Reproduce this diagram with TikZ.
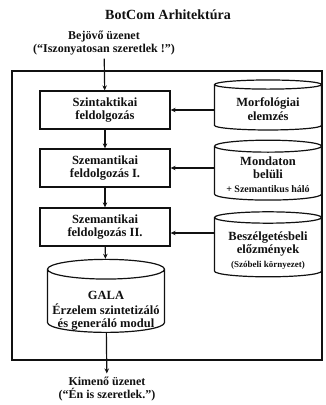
\documentclass[tikz,border=0pt]{standalone}
\usepackage{fontspec}
\setmainfont{Liberation Serif}
\usepackage{tikz}
\usetikzlibrary{positioning,arrows.meta,shapes.geometric,calc}
\definecolor{botink}{HTML}{111111}
\newcommand{\lowtext}[2]{\raisebox{-#1}[\height][\depth]{\begin{tabular}{@{}c@{}}#2\end{tabular}}}

\begin{document}
\begin{tikzpicture}[
  x=1pt,y=-1pt,
  font=\fontsize{12}{13}\selectfont\bfseries,
  every node/.style={text=botink},
  proc/.style={rectangle,draw=botink,line width=1.3pt,minimum width=130pt,minimum height=38pt,align=center,inner sep=1pt,font=\fontsize{12.5}{13.5}\selectfont\bfseries},
  store/.style={cylinder,shape border rotate=90,draw=botink,line width=1.2pt,aspect=0.14,align=center,inner sep=1pt,font=\fontsize{12.5}{13.5}\selectfont\bfseries},
  flow/.style={-{Stealth[length=5pt,width=4.5pt]},line width=1.2pt,draw=botink},
]
\useasboundingbox (0,0) rectangle (326,405);

\node[font=\fontsize{14}{16}\selectfont\bfseries] (title) at (168,15) {BotCom Arhitektúra};
\node[align=center] (input) at (104,43) {Bejövő üzenet\\(``Iszonyatosan szeretlek !'')};

\draw[line width=1.6pt,draw=botink] (12,71) rectangle (322,360);

\node[proc] (szint) at (105,110) {Szintaktikai\\feldolgozás};
\node[proc] (szem1) at (105,168) {Szemantikai\\feldolgozás I.};
\node[proc] (szem2) at (105,227) {Szemantikai\\feldolgozás II.};
\node[store,minimum width=117pt,minimum height=73pt,aspect=0.18] (gala) at (106,302) {\lowtext{9pt}{GALA\\Érzelem szintetizáló\\és generáló modul}};

\node[store,minimum width=107pt,minimum height=50pt] (morf) at (268,108) {\lowtext{3pt}{Morfológiai\\elemzés}};
\node[store,minimum width=107pt,minimum height=58pt] (mond) at (268,174) {\lowtext{2pt}{Mondaton\\belüli\\{\fontsize{10}{11}\selectfont + Szemantikus háló}}};
\node[store,minimum width=107pt,minimum height=65pt] (besz) at (268,248) {\lowtext{3pt}{Beszélgetésbeli\\előzmények\\{\fontsize{9}{11}\selectfont (Szóbeli környezet)}}};

\node[align=center] (output) at (107,389) {Kimenő üzenet\\(``Én is szeretlek.'')};

\draw[flow] (input) -- (szint);
\draw[flow] (szint) -- (szem1);
\draw[flow] (szem1) -- (szem2);
\draw[flow] (szem2) -- (gala);
\draw[flow] (gala) -- (output);
\draw[flow] (morf.west |- szint.east) -- (szint.east);
\draw[flow] (mond.west |- szem1.east) -- (szem1.east);
\draw[flow] (besz.west |- 0,233) -- (szem2.east |- 0,233);
\end{tikzpicture}
\end{document}
